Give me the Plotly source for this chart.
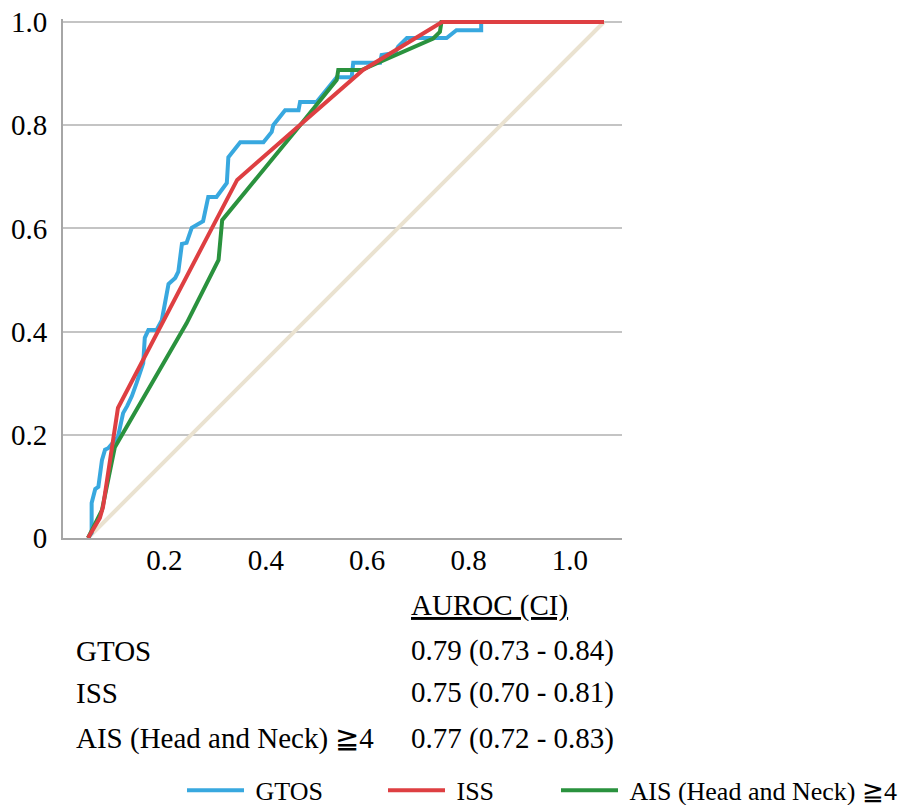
import plotly.graph_objects as go

# ---------------- data ----------------
gtos_fpr = [0.000, 0.007, 0.007, 0.014, 0.020, 0.027, 0.033, 0.039, 0.058, 0.068,
            0.076, 0.085, 0.094, 0.107, 0.110, 0.117, 0.133, 0.143, 0.156, 0.169,
            0.175, 0.182, 0.191, 0.201, 0.223, 0.233, 0.249, 0.269, 0.272, 0.295,
            0.340, 0.356, 0.359, 0.382, 0.408, 0.411, 0.443, 0.482, 0.511, 0.514,
            0.566, 0.569, 0.595, 0.601, 0.618, 0.695, 0.714, 0.762, 0.762, 1.000]
gtos_tpr = [0.000, 0.010, 0.068, 0.095, 0.099, 0.151, 0.171, 0.174, 0.196, 0.242,
            0.256, 0.275, 0.300, 0.339, 0.388, 0.403, 0.403, 0.422, 0.492, 0.504,
            0.516, 0.570, 0.572, 0.601, 0.614, 0.661, 0.661, 0.688, 0.738, 0.767,
            0.767, 0.787, 0.800, 0.829, 0.829, 0.845, 0.845, 0.893, 0.893, 0.921,
            0.921, 0.936, 0.940, 0.952, 0.969, 0.969, 0.984, 0.984, 1.000, 1.000]

iss_fpr = [0.000, 0.023, 0.029, 0.058, 0.289, 0.533, 0.686, 1.000]
iss_tpr = [0.000, 0.039, 0.060, 0.252, 0.694, 0.907, 1.000, 1.000]

ais_fpr = [0.000, 0.027, 0.052, 0.191, 0.253, 0.260, 0.411, 0.482, 0.485, 0.530,
           0.669, 0.682, 0.685, 1.000]
ais_tpr = [0.000, 0.054, 0.176, 0.416, 0.539, 0.616, 0.800, 0.888, 0.907, 0.907,
           0.968, 0.981, 1.000, 1.000]

ref_fpr = [0.0, 1.0]
ref_tpr = [0.0, 1.0]

x_tick_values = [0.2, 0.4, 0.6, 0.8, 1.0]
x_tick_labels = ["0.2", "0.4", "0.6", "0.8", "1.0"]
y_tick_values = [0.0, 0.2, 0.4, 0.6, 0.8, 1.0]
y_tick_labels = ["0", "0.2", "0.4", "0.6", "0.8", "1.0"]

series_names = ["GTOS", "ISS", "AIS (Head and Neck) \u22674"]
auroc_header = "AUROC (CI)"
auroc_values = ["0.79 (0.73 - 0.84)", "0.75 (0.70 - 0.81)", "0.77 (0.72 - 0.83)"]

# ---------------- styling ----------------
FONT = "Liberation Serif, Times New Roman, serif"
C_BLUE = "#38A8DF"
C_RED = "#DE3F42"
C_GREEN = "#2A923E"
C_DIAG = "#EAE2D0"

W, H = 902, 805
L, R, T, B = 63, 280, 19, 267
PLOT_W = W - L - R          # 559
Y0_PX = 538                 # pixel row of y = 0
Y_UNIT = 516.0              # pixels per unit on y

X_RANGE = [-0.0485, 1.0349]
Y_RANGE = [0.0, 1.0058]
LABEL_AXIS_MAX = 1.1026  # the printed tick labels sit on a slightly shifted scale
tick_pos = [X_RANGE[0] + v / LABEL_AXIS_MAX * (X_RANGE[1] - X_RANGE[0]) for v in x_tick_values]

fig = go.Figure()
fig.add_trace(go.Scatter(x=ref_fpr, y=ref_tpr, mode="lines",
                         line=dict(color=C_DIAG, width=4), showlegend=False, hoverinfo="skip"))
fig.add_trace(go.Scatter(x=gtos_fpr, y=gtos_tpr, mode="lines", name="\u00a0" + series_names[0],
                         line=dict(color=C_BLUE, width=4), legendwidth=129, legendrank=1))
fig.add_trace(go.Scatter(x=ais_fpr, y=ais_tpr, mode="lines", name="\u00a0" + series_names[2],
                         line=dict(color=C_GREEN, width=4), legendwidth=280, legendrank=3))
fig.add_trace(go.Scatter(x=iss_fpr, y=iss_tpr, mode="lines", name="\u00a0" + series_names[1],
                         line=dict(color=C_RED, width=4), legendwidth=101, legendrank=2))

def px_x(p):
    return (p - L) / float(PLOT_W)

def px_y(p):
    return (Y0_PX - p) / Y_UNIT

fig.update_layout(
    width=W, height=H,
    margin=dict(l=L, r=R, t=T, b=B, autoexpand=False),
    paper_bgcolor="white", plot_bgcolor="white",
    font=dict(family=FONT, size=29, color="black"),
    xaxis=dict(range=X_RANGE, tickvals=tick_pos, ticktext=x_tick_labels,
               showgrid=False, zeroline=False, showline=True, linecolor="#A6A6A6",
               linewidth=2, ticks="", ticklabelstandoff=-5, ticklabeloverflow="allow",
               tickfont=dict(family=FONT, size=29, color="black"), fixedrange=True),
    yaxis=dict(range=Y_RANGE, tickvals=y_tick_values, ticktext=y_tick_labels,
               showgrid=True, gridcolor="#C4C4C4", gridwidth=2, zeroline=False,
               showline=True, linecolor="#A6A6A6", linewidth=2, ticks="",
               ticklabelstandoff=8, ticklabeloverflow="allow",
               tickfont=dict(family=FONT, size=29, color="black"), fixedrange=True),
    legend=dict(orientation="h", xref="paper", yref="paper",
                x=px_x(908), xanchor="right", y=px_y(789), yanchor="middle",
                font=dict(family=FONT, size=26, color="black"),
                itemwidth=57, traceorder="normal", bgcolor="rgba(0,0,0,0)"),
    showlegend=True,
)

ann = [dict(text="<u>" + auroc_header + "</u>", x=px_x(409), y=px_y(605))]
row_y = [650, 692, 737]
for name, val, yy in zip(series_names, auroc_values, row_y):
    ann.append(dict(text=name, x=px_x(74), y=px_y(yy)))
    ann.append(dict(text=val, x=px_x(409), y=px_y(yy)))
for a in ann:
    a.update(xref="paper", yref="paper", xanchor="left", yanchor="middle",
             showarrow=False, font=dict(family=FONT, size=29, color="black"))
fig.update_layout(annotations=ann)

fig.write_html("out.html", config={"displayModeBar": False},
               post_script="document.body.style.margin='0';")
